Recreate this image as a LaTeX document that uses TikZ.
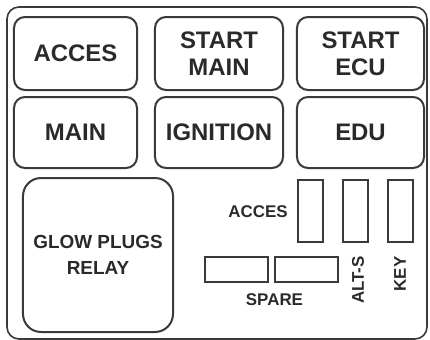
\documentclass[tikz,border=0pt]{standalone}
\usepackage{fontspec}
\setmainfont{Liberation Sans}
\definecolor{linec}{HTML}{3A3A3A}
\definecolor{textc}{HTML}{2A2A2A}
\begin{document}
\begin{tikzpicture}[x=1bp,y=-1bp,
  box/.style={draw=linec, line width=2bp, rounded corners=11bp, inner sep=0pt, outer sep=0pt,
    align=center, text=textc, font=\bfseries\fontsize{24}{27.5}\selectfont},
  fuse/.style={draw=linec, line width=1.8bp, inner sep=0pt, outer sep=0pt},
  lbl/.style={inner sep=0pt, text=textc, font=\bfseries\fontsize{17}{20}\selectfont}]
\useasboundingbox (0,0) rectangle (430,340);
\node[draw=linec, line width=1.6bp, rounded corners=12bp, minimum width=420bp, minimum height=332bp, inner sep=0pt] (frame) at (217,173) {};
% top row
\node[box, minimum width=123bp, minimum height=73bp] (acces) at (75.5,53.5) {ACCES};
\node[box, minimum width=128bp, minimum height=73bp] (startmain) at (219,53.5) {START\\MAIN};
\node[box, minimum width=127bp, minimum height=73bp] (startecu) at (360.5,53.5) {START\\ECU};
% second row
\node[box, minimum width=123bp, minimum height=71bp] (main) at (75.5,132.5) {MAIN};
\node[box, minimum width=128bp, minimum height=71bp] (ignition) at (219,132.5) {IGNITION};
\node[box, minimum width=127bp, minimum height=71bp] (edu) at (360.5,132.5) {EDU};
% glow plugs relay
\node[box, rounded corners=18bp, minimum width=150bp, minimum height=154bp,
  font=\bfseries\fontsize{19}{26}\selectfont] (glow) at (98,255) {GLOW PLUGS\\RELAY};
% small fuses
\node[fuse, minimum width=25bp, minimum height=62bp] (f1) at (310.5,211) {};
\node[fuse, minimum width=25bp, minimum height=62bp] (f2) at (355.5,211) {};
\node[fuse, minimum width=25bp, minimum height=62bp] (f3) at (400.5,211) {};
\node[fuse, minimum width=63bp, minimum height=25bp] (s1) at (236.5,269.5) {};
\node[fuse, minimum width=63bp, minimum height=25bp] (s2) at (306.5,269.5) {};
% labels
\node[lbl] (lacces) at (258,212) {ACCES};
\node[lbl] (lspare) at (274.5,300) {SPARE};
\node[lbl, rotate=90] (lalts) at (358,280) {ALT-S};
\node[lbl, rotate=90] (lkey) at (400,274) {KEY};
\end{tikzpicture}
\end{document}
